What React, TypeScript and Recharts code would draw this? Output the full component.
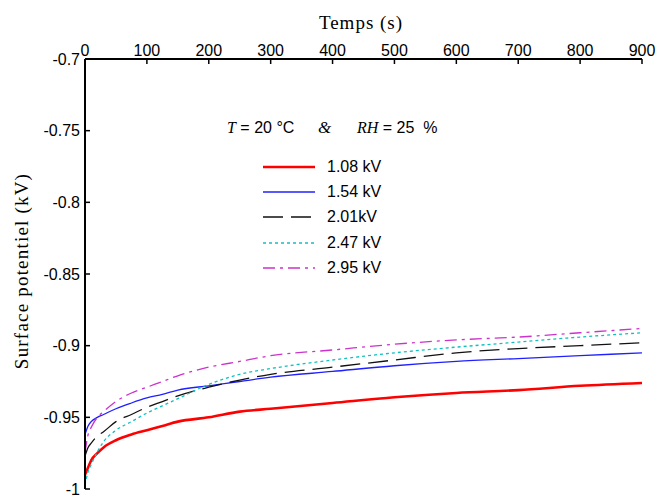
import { LineChart, Line, XAxis, YAxis, Legend } from "recharts";

// Surface potential decay, sampled times in seconds
const TIME = [0, 5, 10, 20, 30, 50, 75, 100, 125, 150, 200, 250, 300, 400, 500, 600, 700, 800, 900];

const V108 = [-0.99, -0.985, -0.98, -0.975, -0.971, -0.966, -0.962, -0.959, -0.956, -0.953, -0.95, -0.946, -0.944, -0.94, -0.936, -0.933, -0.931, -0.928, -0.926];
const V154 = [-0.962, -0.956, -0.953, -0.95, -0.948, -0.944, -0.94, -0.9365, -0.934, -0.931, -0.928, -0.925, -0.922, -0.918, -0.914, -0.911, -0.909, -0.907, -0.905];
const V201 = [-0.977, -0.971, -0.968, -0.963, -0.96, -0.953, -0.948, -0.943, -0.939, -0.935, -0.929, -0.924, -0.92, -0.915, -0.91, -0.905, -0.902, -0.9, -0.898];
const V247 = [-0.997, -0.988, -0.983, -0.974, -0.967, -0.959, -0.953, -0.947, -0.942, -0.937, -0.927, -0.92, -0.916, -0.91, -0.905, -0.901, -0.8975, -0.894, -0.891];
const V295 = [-0.975, -0.962, -0.957, -0.95, -0.946, -0.939, -0.933, -0.929, -0.925, -0.921, -0.915, -0.911, -0.907, -0.903, -0.899, -0.896, -0.894, -0.891, -0.888];

const X_TICKS = [0, 100, 200, 300, 400, 500, 600, 700, 800, 900];
const Y_TICKS = [-0.7, -0.75, -0.8, -0.85, -0.9, -0.95, -1];

const SERIES = [
  { key: "v108", name: "1.08 kV", values: V108, color: "#ff0000", width: 2.6, dash: undefined },
  { key: "v154", name: "1.54 kV", values: V154, color: "#2020ff", width: 1.3, dash: undefined },
  { key: "v201", name: "2.01kV", values: V201, color: "#111111", width: 1.3, dash: "20 8" },
  { key: "v247", name: "2.47 kV", values: V247, color: "#10c0c0", width: 1.3, dash: "3 3" },
  { key: "v295", name: "2.95 kV", values: V295, color: "#cc33cc", width: 1.3, dash: "12 5 3 5" },
];

const data = TIME.map((t, i) => {
  const row: Record<string, number> = { t };
  SERIES.forEach((s) => {
    row[s.key] = s.values[i];
  });
  return row;
});

const SANS = "'Liberation Sans', Arial, sans-serif";
const SERIF = "'Liberation Serif', 'Times New Roman', serif";

function LegendContent({ payload }: { payload?: Array<{ dataKey?: string; value?: string }> }) {
  return (
    <div style={{ fontFamily: SANS, fontSize: 16, color: "#000" }}>
      {(payload || []).map((entry) => {
        const s = SERIES.find((x) => x.key === entry.dataKey);
        if (!s) return null;
        return (
          <div key={s.key} style={{ display: "flex", alignItems: "center", height: 25.3 }}>
            <svg width={64} height={10}>
              <line
                x1={0}
                x2={52}
                y1={5}
                y2={5}
                stroke={s.color}
                strokeWidth={s.width}
                strokeDasharray={s.dash}
              />
            </svg>
            <span style={{ lineHeight: "16px" }}>{entry.value}</span>
          </div>
        );
      })}
    </div>
  );
}

export default function App() {
  return (
    <div style={{ position: "absolute", left: 0, top: 0, width: 668, height: 497, background: "#fff" }}>
      <LineChart width={668} height={497} data={data} margin={{ top: 0, right: 26, bottom: 8, left: 0 }}>
        <XAxis
          dataKey="t"
          type="number"
          orientation="top"
          domain={[0, 900]}
          ticks={X_TICKS}
          height={59}
          tickSize={-5}
          tickMargin={8}
          interval={0}
          axisLine={{ stroke: "#000", strokeWidth: 2 }}
          tickLine={{ stroke: "#000", strokeWidth: 1.5 }}
          tick={{ fill: "#000", fontFamily: SANS, fontSize: 16 }}
        />
        <YAxis
          type="number"
          domain={[-1, -0.7]}
          ticks={Y_TICKS}
          width={85}
          tickSize={-5}
          tickMargin={10}
          interval={0}
          tickFormatter={(v: number) => String(v)}
          axisLine={{ stroke: "#000", strokeWidth: 2 }}
          tickLine={{ stroke: "#000", strokeWidth: 1.5 }}
          tick={{ fill: "#000", fontFamily: SANS, fontSize: 16 }}
        />
        {SERIES.map((s) => (
          <Line
            key={s.key}
            dataKey={s.key}
            name={s.name}
            type="monotone"
            stroke={s.color}
            strokeWidth={s.width}
            strokeDasharray={s.dash}
            dot={false}
            activeDot={false}
            isAnimationActive={false}
          />
        ))}
        <Legend
          layout="vertical"
          align="center"
          verticalAlign="middle"
          wrapperStyle={{ left: 263, top: 154, width: 160 }}
          content={<LegendContent />}
        />
        <text x={361} y={29} textAnchor="middle" fontFamily={SERIF} fontSize={19} letterSpacing={1} fill="#000">
          Temps (s)
        </text>
        <text
          x={28}
          y={271}
          transform="rotate(-90 28 271)"
          textAnchor="middle"
          fontFamily={SERIF}
          fontSize={19}
          letterSpacing={1.2}
          fill="#000"
        >
          Surface potentiel (kV)
        </text>
        <text x={227} y={133} fill="#000" fontSize={16}>
          <tspan fontFamily={SERIF} fontStyle="italic">T</tspan>
          <tspan fontFamily={SANS}> = 20 °C</tspan>
        </text>
        <text x={318} y={133} fill="#000" fontSize={17} fontFamily={SERIF} fontStyle="italic">
          &amp;
        </text>
        <text x={357} y={133} fill="#000" fontSize={16} style={{ whiteSpace: "pre" }}>
          <tspan fontFamily={SERIF} fontStyle="italic">RH</tspan>
          <tspan fontFamily={SANS}>{" = 25  %"}</tspan>
        </text>
      </LineChart>
    </div>
  );
}
